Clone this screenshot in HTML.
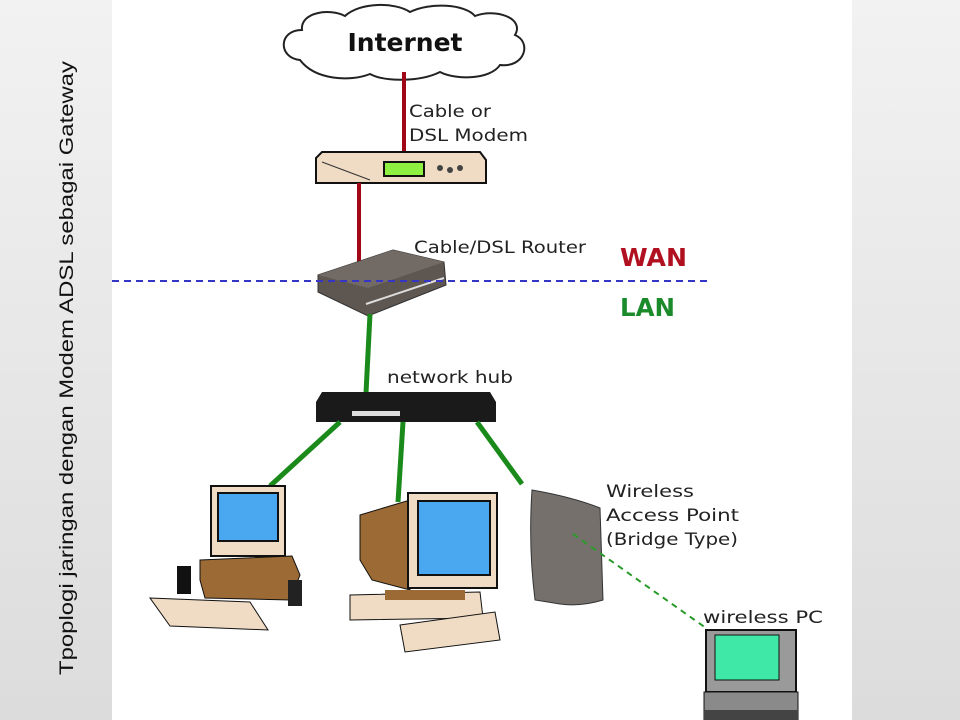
<!DOCTYPE html>
<html><head><style>
html,body{margin:0;padding:0;width:960px;height:720px;overflow:hidden;background:#e6e6e6;}
svg{display:block}
text{font-family:"DejaVu Sans","Liberation Sans",sans-serif;}
</style></head><body>
<svg width="960" height="720" viewBox="0 0 960 720" xmlns="http://www.w3.org/2000/svg">
<defs>
<linearGradient id="bg" x1="0" y1="0" x2="0" y2="1"><stop offset="0" stop-color="#f2f2f2"/><stop offset="1" stop-color="#dcdcdc"/></linearGradient>
</defs>
<rect width="960" height="720" fill="url(#bg)"/>
<rect x="112" y="0" width="740" height="720" fill="#fff"/>
<text transform="translate(73,368) rotate(-90)" text-anchor="middle" font-size="19" fill="#111" style="font-family:'Liberation Sans',sans-serif" textLength="614" lengthAdjust="spacingAndGlyphs">Tpoplogi jaringan dengan Modem ADSL sebagai Gateway</text>

<!-- cloud -->
<path d="M300,60 C278,58 278,30 302,30 C300,12 330,8 345,16 C360,2 395,2 410,12 C430,2 465,4 475,16 C495,8 525,18 515,35 C532,42 525,68 500,65 C490,80 455,80 440,72 C420,82 385,82 370,74 C350,82 315,80 300,60 Z" fill="#fff" stroke="#222" stroke-width="2"/>
<text x="405" y="51" text-anchor="middle" font-size="25" font-weight="bold" fill="#111" textLength="115" lengthAdjust="spacingAndGlyphs">Internet</text>

<line x1="404" y1="72" x2="404" y2="153" stroke="#a00818" stroke-width="4"/>
<text x="409" y="117" font-size="17" fill="#222" textLength="82" lengthAdjust="spacingAndGlyphs">Cable or</text>
<text x="409" y="141" font-size="17" fill="#222" textLength="119" lengthAdjust="spacingAndGlyphs">DSL Modem</text>

<!-- modem -->
<path d="M322,152 L480,152 L486,160 L486,183 L316,183 L316,158 Z" fill="#f0dcc4" stroke="#111" stroke-width="2"/>
<rect x="384" y="162" width="40" height="14" fill="#8ef040" stroke="#111" stroke-width="2"/>
<line x1="322" y1="162" x2="370" y2="180" stroke="#333"/>
<circle cx="440" cy="168" r="3" fill="#444"/><circle cx="450" cy="170" r="3" fill="#444"/><circle cx="460" cy="168" r="3" fill="#444"/>

<line x1="359" y1="183" x2="359" y2="262" stroke="#a00818" stroke-width="4"/>
<text x="414" y="253" font-size="17" fill="#222" textLength="172" lengthAdjust="spacingAndGlyphs">Cable/DSL Router</text>

<!-- router -->
<polygon points="318,275 393,250 444,262 446,285 368,316 318,292" fill="#5e5650" stroke="#333"/>
<polygon points="318,275 393,250 444,262 368,288" fill="#726a64"/>
<line x1="366" y1="304" x2="444" y2="278" stroke="#ddd" stroke-width="2"/>

<line x1="112" y1="281" x2="708" y2="281" stroke="#3535c8" stroke-width="2" stroke-dasharray="7,5"/>
<text x="620" y="266" font-size="25" font-weight="bold" fill="#b01020" textLength="67" lengthAdjust="spacingAndGlyphs">WAN</text>
<text x="620" y="316" font-size="25" font-weight="bold" fill="#1a8a2a" textLength="55" lengthAdjust="spacingAndGlyphs">LAN</text>

<line x1="370" y1="314" x2="366" y2="393" stroke="#1a8a1a" stroke-width="5"/>
<text x="387" y="383" font-size="17" fill="#222" textLength="126" lengthAdjust="spacingAndGlyphs">network hub</text>

<!-- hub -->
<polygon points="322,392 490,392 496,402 496,422 316,422 316,402" fill="#1a1a1a"/>
<rect x="352" y="411" width="48" height="5" fill="#ddd"/>

<line x1="340" y1="422" x2="270" y2="486" stroke="#1a8a1a" stroke-width="5"/>
<line x1="403" y1="422" x2="398" y2="502" stroke="#1a8a1a" stroke-width="5"/>
<line x1="477" y1="422" x2="522" y2="484" stroke="#1a8a1a" stroke-width="5"/>

<!-- left computer -->
<rect x="211" y="486" width="74" height="70" fill="#f0dcc4" stroke="#111" stroke-width="2"/>
<rect x="218" y="493" width="60" height="48" fill="#4aa8f0" stroke="#111" stroke-width="2"/>
<polygon points="200,560 292,556 300,575 290,600 205,598 200,580" fill="#9c6a34" stroke="#111"/>
<polygon points="150,598 250,602 268,630 170,626" fill="#f0dcc4" stroke="#111"/>
<rect x="177" y="566" width="14" height="28" fill="#111"/>
<rect x="288" y="580" width="14" height="26" fill="#222"/>

<!-- center computer -->
<polygon points="360,515 410,500 410,590 372,580 360,560" fill="#9c6a34" stroke="#111"/>
<rect x="408" y="493" width="89" height="95" fill="#f0dcc4" stroke="#111" stroke-width="2"/>
<rect x="418" y="501" width="72" height="74" fill="#4aa8f0" stroke="#111" stroke-width="2"/>
<polygon points="350,595 480,592 483,618 350,620" fill="#f0dcc4" stroke="#111"/>
<polygon points="400,625 495,612 500,640 405,652" fill="#f0dcc4" stroke="#111"/>
<rect x="385" y="590" width="80" height="10" fill="#9c6a34"/>

<!-- AP -->
<path d="M532,490 C555,494 580,500 600,508 L603,600 C590,604 575,606 560,604 L535,600 C530,560 530,520 532,490 Z" fill="#75706c" stroke="#333"/>

<text x="606" y="497" font-size="17" fill="#222" textLength="88" lengthAdjust="spacingAndGlyphs">Wireless</text>
<text x="606" y="521" font-size="17" fill="#222" textLength="133" lengthAdjust="spacingAndGlyphs">Access Point</text>
<text x="606" y="545" font-size="17" fill="#222" textLength="132" lengthAdjust="spacingAndGlyphs">(Bridge Type)</text>

<line x1="573" y1="534" x2="706" y2="628" stroke="#2a9a2a" stroke-width="2" stroke-dasharray="6,5"/>
<text x="703" y="623" font-size="17" fill="#222" textLength="120" lengthAdjust="spacingAndGlyphs">wireless PC</text>

<!-- laptop -->
<rect x="706" y="630" width="90" height="62" fill="#9a9a9a" stroke="#111" stroke-width="2"/>
<rect x="715" y="635" width="64" height="45" fill="#40e8a8" stroke="#111"/>
<rect x="704" y="692" width="94" height="28" fill="#8a8a8a" stroke="#111"/>
<rect x="704" y="710" width="94" height="10" fill="#444"/>
</svg>
</body></html>
